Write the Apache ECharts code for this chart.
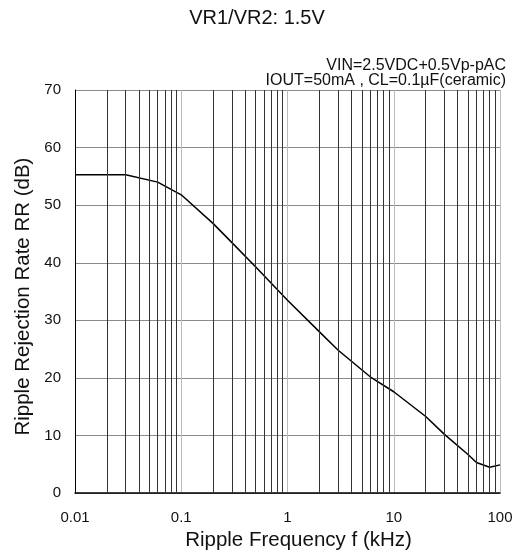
<!DOCTYPE html>
<html>
<head>
<meta charset="utf-8">
<script src="https://cdn.jsdelivr.net/npm/echarts@6/dist/echarts.min.js"></script>
<style>
html,body{margin:0;padding:0;background:#fff;}
#chart{width:526px;height:556px;}
</style>
</head>
<body>
<div id="chart"></div>
<script>
// Data
const freq = [0.01, 0.03, 0.06, 0.1, 0.2, 0.3, 0.5, 1, 2, 3, 6, 10, 20, 30, 50, 60, 80, 100];
const rr   = [55.3, 55.3, 54.0, 51.8, 46.8, 43.5, 39.3, 33.5, 28.0, 24.8, 20.2, 17.6, 13.3, 10.2, 6.7, 5.3, 4.5, 4.9];
const xTickLabels = ['0.01', '0.1', '1', '10', '100'];
const titleText = 'VR1/VR2: 1.5V';
const noteLine1 = 'VIN=2.5VDC+0.5Vp-pAC';
const noteLine2 = 'IOUT=50mA , CL=0.1\u00B5F(ceramic)';
const xName = 'Ripple Frequency f (kHz)';
const yName = 'Ripple Rejection Rate RR (dB)';

// minor log grid positions (2..9 in each decade)
const minorGrid = [];
[0.01, 0.1, 1, 10].forEach(d => { for (let k = 2; k <= 9; k++) minorGrid.push(+(d * k).toPrecision(3)); });

const FONT = '"Liberation Sans", Arial, sans-serif';
const chart = echarts.init(document.getElementById('chart'), null, {renderer: 'canvas'});
chart.setOption({
  animation: false,
  backgroundColor: '#fff',
  grid: {left: 75, right: 26, top: 90, bottom: 61, containLabel: false},
  graphic: [
    {type: 'text', x: 257, y: 18, style: {text: titleText, font: '20px ' + FONT, fill: '#111', align: 'center', verticalAlign: 'middle'}},
    {type: 'text', x: 506, y: 66, style: {text: noteLine1, font: '16px ' + FONT, fill: '#111', align: 'right', verticalAlign: 'middle'}},
    {type: 'text', x: 506, y: 81, style: {text: noteLine2, font: '16px ' + FONT, fill: '#111', align: 'right', verticalAlign: 'middle'}}
  ],
  xAxis: {
    type: 'log', logBase: 10, min: 0.01, max: 100,
    name: xName, nameLocation: 'middle', nameGap: 34,
    nameTextStyle: {fontFamily: FONT, fontSize: 20.5, color: '#111', padding: [0, 0, 0, 22]},
    axisLine: {show: true, lineStyle: {color: '#000', width: 1.5}},
    axisTick: {show: false},
    axisLabel: {fontFamily: FONT, fontSize: 15, color: '#111', margin: 17,
      formatter: v => { const i = Math.round(Math.log10(v)) + 2; return xTickLabels[i] !== undefined ? xTickLabels[i] : ''; }},
    splitLine: {show: true, lineStyle: {color: '#bbb', width: 1}},
    minorTick: {show: false}, minorSplitLine: {show: false}
  },
  yAxis: {
    type: 'value', min: 0, max: 70, interval: 10,
    name: yName, nameLocation: 'middle', nameGap: 40, nameRotate: 90,
    nameTextStyle: {fontFamily: FONT, fontSize: 20.5, color: '#111', padding: [0, 10, 0, 0]},
    axisLine: {show: true, lineStyle: {color: '#000', width: 1}},
    axisTick: {show: false},
    axisLabel: {fontFamily: FONT, fontSize: 15, color: '#111', margin: 14},
    splitLine: {show: true, lineStyle: {color: '#8a8a8a', width: 1}}
  },
  series: [{
    type: 'line',
    data: freq.map((f, i) => [f, rr[i]]),
    showSymbol: false, symbol: 'none', smooth: false,
    lineStyle: {color: '#000', width: 1.5},
    silent: true,
    markLine: {
      silent: true, symbol: ['none', 'none'], animation: false,
      label: {show: false},
      lineStyle: {color: '#333', width: 1, type: 'solid'},
      emphasis: {disabled: true},
      data: minorGrid.map(v => ({xAxis: v}))
    }
  }]
});
</script>
</body>
</html>
